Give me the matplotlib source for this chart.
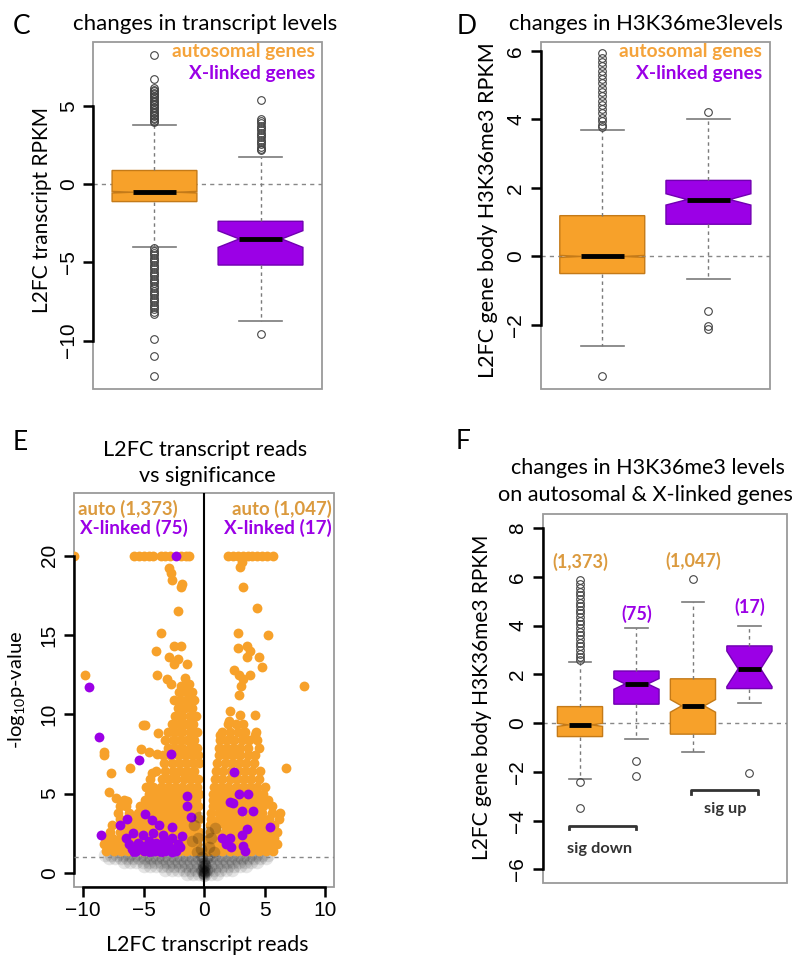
import matplotlib
matplotlib.use("Agg")
import matplotlib.pyplot as plt
from matplotlib.patches import Rectangle

plt.rcParams['font.family'] = ['Lato', 'DejaVu Sans']
plt.rcParams['mathtext.fontset'] = 'custom'
plt.rcParams['mathtext.rm'] = 'Lato'

W, H = 801, 973
ORANGE = '#F7A12A'
ORANGE_EDGE = '#C47A18'
PURPLE = '#9B00E6'
PURPLE_EDGE = '#7000B0'
ORANGE_TXT = '#F5A33A'
ORANGE_TXT2 = '#DB9A3E'
TICKFONT = ['Liberation Sans', 'DejaVu Sans']

# ---------------- panel C: transcript levels ----------------
c_med = [-0.51, -3.50]
c_q1 = [-1.11, -5.17]
c_q3 = [0.88, -2.37]
c_lo = [-4.04, -8.74]
c_hi = [3.81, 1.73]
c_cilo = [-0.56, -4.04]
c_cihi = [-0.46, -2.97]
c_fliers = [
    [8.30, 6.73, 6.18, 6.05, 5.95, 5.85, 5.75, 5.65, 5.55, 5.45, 5.35, 5.25, 5.15,
     5.05, 4.95, 4.85, 4.75, 4.65, 4.55, 4.45, 4.35, 4.25, 4.15, 4.05, 3.95,
     -4.10, -4.25, -4.40, -4.55, -4.70, -4.85, -5.00, -5.15, -5.30, -5.45, -5.60,
     -5.75, -5.90, -6.05, -6.20, -6.35, -6.50, -6.65, -6.80, -6.95, -7.10, -7.25,
     -7.40, -7.55, -7.70, -7.85, -8.00, -8.15, -8.30, -9.93, -11.0, -12.3],
    [5.41, 4.19, 4.05, 3.90, 3.75, 3.60, 3.45, 3.30, 3.15, 3.00, 2.85, 2.70,
     2.55, 2.40, 2.28, 2.16, -9.55],
]

# ---------------- panel D: H3K36me3 levels ----------------
d_med = [0.00, 1.66]
d_q1 = [-0.50, 0.94]
d_q3 = [1.19, 2.22]
d_lo = [-2.61, -0.66]
d_hi = [3.69, 4.00]
d_cilo = [-0.03, 1.50]
d_cihi = [0.03, 1.83]
d_fliers = [
    [5.93, 5.80, 5.68, 5.55, 5.42, 5.30, 5.18, 5.05, 4.92, 4.80, 4.68, 4.55, 4.42,
     4.30, 4.18, 4.05, 3.95, 3.85, 3.77, -3.48],
    [4.23, -1.60, -2.03, -2.12],
]

# ---------------- panel F: sig down / sig up ----------------
f_med = [-0.07, 1.61, 0.71, 2.23]
f_q1 = [-0.55, 0.78, -0.45, 1.42]
f_q3 = [0.68, 2.14, 1.82, 3.17]
f_lo = [-2.30, -0.66, -1.19, 0.82]
f_hi = [2.50, 3.89, 4.99, 4.00]
f_cilo = [-0.13, 1.39, 0.45, 1.50]
f_cihi = [-0.01, 1.83, 0.97, 2.96]
f_fliers = [
    [5.87, 5.70, 5.55, 5.40, 5.25, 5.10, 4.95, 4.80, 4.65, 4.50, 4.35, 4.20, 4.05,
     3.90, 3.75, 3.60, 3.45, 3.30, 3.15, 3.00, 2.85, 2.70, 2.58, -2.43, -3.48],
    [-1.57, -2.16],
    [5.90],
    [-2.05],
]
f_counts = ['(1,373)', '(75)', '(1,047)', '(17)']
f_count_y = [6.62, 4.50, 6.66, 4.78]

# ---------------- panel E: volcano ----------------
# dense autosomal rows (y, x values)
auto_rows = [
    (1.4, [-8.1, -7.5, -6.9, -6.3, -5.7, -5.1, -4.5, -3.9, -3.3, -2.7, -2.1, -1.5, -0.9, -0.4,
           0.3, 0.9, 1.5, 2.1, 2.7, 3.3, 3.9, 4.5, 5.1, 5.7]),
    (1.8, [-8.3, -7.8, -7.2, -6.6, -6.0, -5.4, -4.8, -4.2, -3.6, -3.0, -2.4, -1.8, -1.2, -0.6,
           0.2, 0.6, 1.2, 1.8, 2.4, 3.0, 3.6, 4.2, 4.8, 5.4, 6.0]),
    (2.2, [-8.2, -7.6, -7.0, -6.4, -5.8, -5.2, -4.6, -4.0, -3.4, -2.8, -2.2, -1.6, -1.0, -0.5,
           0.4, 1.0, 1.6, 2.2, 2.8, 3.4, 4.0, 4.6, 5.2, 5.8]),
    (2.6, [-7.8, -7.0, -6.3, -5.7, -5.1, -4.5, -3.9, -3.3, -2.7, -2.1, -1.5, -0.9, -0.4,
           0.5, 1.1, 1.7, 2.3, 2.9, 3.5, 4.1, 4.7, 5.3, 6.0]),
    (3.0, [-7.6, -6.8, -6.1, -5.5, -4.9, -4.3, -3.7, -3.1, -2.5, -1.9, -1.3, -0.7,
           0.5, 1.1, 1.7, 2.3, 2.9, 3.5, 4.1, 4.7, 5.3, 5.8]),
    (3.4, [-7.0, -6.4, -5.8, -5.2, -4.6, -4.0, -3.4, -2.8, -2.2, -1.6, -1.0, -0.4,
           0.6, 1.2, 1.8, 2.4, 3.0, 3.6, 4.2, 4.8, 5.4, 6.2]),
    (3.8, [-7.1, -6.2, -5.5, -4.9, -4.3, -3.7, -3.1, -2.5, -1.9, -1.3, -0.7,
           0.6, 1.2, 1.8, 2.4, 3.0, 3.6, 4.2, 4.8, 5.6, 6.3]),
    (4.2, [-6.5, -5.3, -4.7, -4.1, -3.5, -2.9, -2.3, -1.7, -1.1, -0.5,
           0.7, 1.3, 1.9, 2.5, 3.1, 3.7, 4.3, 4.9, 5.6]),
    (4.6, [-6.6, -4.9, -4.3, -3.7, -3.1, -2.5, -1.9, -1.3, -0.7,
           0.7, 1.3, 1.9, 2.5, 3.1, 3.7, 4.3, 4.9, 5.3]),
    (5.0, [-4.6, -4.0, -3.4, -2.8, -2.2, -1.6, -1.0, -0.4,
           0.7, 1.3, 1.9, 2.5, 3.1, 3.7, 4.3, 4.9]),
    (5.4, [-4.8, -4.2, -3.6, -3.0, -2.4, -1.8, -1.2, -0.6,
           0.8, 1.4, 2.0, 2.6, 3.2, 3.8, 4.4, 5.0]),
    (5.9, [-4.5, -3.5, -2.9, -2.3, -1.7, -1.1, -0.5,
           0.9, 1.5, 2.1, 2.7, 3.3, 3.9, 4.5]),
    (6.4, [-4.0, -3.2, -2.6, -2.0, -1.4, -0.8, 1.0, 1.6, 2.2, 2.8, 3.4, 4.0, 4.6]),
    (6.9, [-3.3, -2.7, -2.1, -1.5, -0.9, -0.4, 1.1, 1.7, 2.3, 2.9, 3.5, 4.1]),
    (7.4, [-3.4, -2.8, -2.2, -1.6, -1.0, -0.5, 1.2, 1.8, 2.4, 3.0, 3.6, 4.2]),
    (7.9, [-3.0, -2.4, -1.8, -1.2, -0.6, 1.2, 1.8, 2.4, 3.0, 3.6, 4.5]),
    (8.4, [-3.2, -2.6, -2.0, -1.4, -0.8, 1.3, 1.9, 2.5, 3.1, 3.7, 4.4]),
    (8.9, [-3.0, -2.4, -1.8, -1.2, -0.6, 1.5, 2.1, 2.8, 3.4, 4.3]),
    (9.4, [-2.7, -2.1, -1.5, -0.9, 2.0, 2.6, 3.2]),
    (9.9, [-2.4, -1.8, -1.2, -0.7]),
    (10.4, [-2.2, -1.6, -1.0]),
    (10.9, [-2.5, -1.9, -1.3, -0.8]),
    (11.4, [-2.1, -1.5, -1.0]),
    (20.0, [-10.8, -5.8, -5.4, -5.0, -4.6, -4.2, -3.6, -3.2, -2.8, -1.9, -1.5, -1.25,
            2.0, 2.4, 2.8, 3.2, 3.6, 4.0, 4.4, 4.8, 5.2, 5.7]),
]
auto_x = [-2.90, -2.78, -2.65, -1.93, -1.80, -2.15, -3.53, -3.97, -2.48, -1.88, -2.90, -2.15,
          -1.43, -2.48, -3.92, -3.09, -2.78, -1.60, -1.93, -1.24, -9.85, -4.90, -5.10, -3.86,
          -8.30, -8.28, -5.24, -4.55, -3.90, -6.13, -7.73, -4.30, -7.87, -7.30, -6.40, -7.00,
          2.05, 2.98, 4.22, 2.15, 2.92, 3.06, 3.20, 2.87, 3.80, 2.43, 4.77, 3.53, 4.50, 2.79,
          3.53, 3.80, 2.79, 5.30, 4.41, 3.25, 2.98, 3.10, 8.30, 6.79, 1.32, 4.22]
auto_y = [19.2, 18.9, 18.5, 18.0, 18.2, 16.5, 15.1, 14.0, 14.3, 14.3, 13.6, 13.5,
          13.2, 13.2, 12.5, 12.2, 11.9, 12.3, 11.8, 11.9, 12.5, 9.3, 9.3, 8.8,
          7.6, 7.4, 7.8, 7.6, 7.5, 6.6, 6.3, 6.3, 5.1, 4.7, 4.5, 4.2,
          9.6, 9.95, 9.95, 10.2, 11.2, 11.8, 12.2, 12.5, 12.5, 12.8, 13.0, 13.6, 13.6, 14.2,
          14.3, 14.0, 15.1, 15.0, 16.7, 18.05, 19.3, 19.6, 11.8, 6.6, 8.7, 8.7]

xlink_x = [-2.30, -9.52, -8.69, -5.35, -2.76, -1.43, -1.43, -1.05, -4.90, -6.40, -7.00, -4.28,
           -3.72, -2.62, -8.50, -5.85, -5.10, -4.20, -6.48, -1.80, -3.40,
           -6.0, -5.6, -5.3, -5.0, -4.7, -4.4, -4.1, -3.8, -3.5, -3.2, -2.9, -2.6, -2.3, -2.0,
           -5.8, -5.4, -4.9, -4.5, -3.9, -3.6, -3.1, -2.7, -2.2,
           -3.3, -2.7, -4.6, -5.5, -6.2, -4.0, -3.0,
           2.43, 2.92, 3.60, 2.10, 2.37, 3.12, 4.08, 5.46, 3.53, 3.12, 1.47, 2.15, 1.80, 2.20,
           3.25, 3.42]
xlink_y = [20.0, 11.7, 8.54, 7.1, 7.5, 4.85, 4.2, 3.5, 3.7, 3.4, 3.0, 3.3,
           3.0, 2.9, 2.38, 2.5, 2.4, 2.5, 2.2, 2.3, 2.4,
           1.5, 1.4, 1.6, 1.4, 1.5, 1.7, 1.4, 1.5, 1.8, 1.4, 1.6, 1.5, 1.4, 1.6,
           1.3, 1.8, 1.7, 1.3, 1.8, 1.3, 1.9, 1.3, 1.8,
           2.0, 2.2, 2.0, 1.9, 1.8, 1.9, 1.9,
           6.37, 4.97, 4.97, 4.48, 4.4, 3.9, 3.9, 2.86, 2.75, 2.4, 2.17, 2.2, 1.8, 1.65,
           1.7, 1.35]

# non-significant genes (grey cloud)
ns_rows = [
    (1.15, [-8.2, -7.7, -7.2, -6.7, -6.2, -5.7, -5.2, -4.7, -4.2, -3.7, -3.2, -2.7, -2.2,
            -1.7, -1.2, -0.7, -0.2, 0.3, 0.8, 1.3, 1.8, 2.3, 2.8, 3.3, 3.8, 4.3, 4.8, 5.3]),
    (0.9, [-7.9, -7.4, -6.9, -6.4, -5.9, -5.4, -4.9, -4.4, -3.9, -3.4, -2.9, -2.4, -1.9,
           -1.4, -0.9, -0.4, 0.1, 0.6, 1.1, 1.6, 2.1, 2.6, 3.1, 3.6, 4.1, 4.6, 5.1]),
    (0.65, [-6.6, -6.1, -5.6, -5.1, -4.6, -4.1, -3.6, -3.1, -2.6, -2.1, -1.6, -1.1, -0.6,
            -0.1, 0.4, 0.9, 1.4, 1.9, 2.4, 2.9, 3.4, 3.9, 4.4]),
    (0.4, [-5.0, -4.5, -4.0, -3.5, -3.0, -2.5, -2.0, -1.5, -1.0, -0.5, 0.0, 0.5, 1.0, 1.5,
           2.0, 2.5, 3.0, 3.5]),
    (0.15, [-3.2, -2.7, -2.2, -1.7, -1.2, -0.7, -0.2, 0.3, 0.8, 1.3, 1.8, 2.3]),
    (-0.1, [-1.4, -0.9, -0.4, 0.1, 0.6, 1.1]),
]
ns_x = [0.0, 0.0, 0.0, -0.2, 0.2, 0.0, -0.1, 0.1, -0.3, -0.5, -0.8, -0.4, 0.4, 0.6, 0.9,
        0.3, -1.0, -0.6, 0.8, -0.2, 0.2, 0.0, -0.1, 0.1]
ns_y = [-0.1, 0.1, 0.3, 0.2, 0.15, 0.6, 0.0, 0.05, 1.5, 2.2, 3.0, 3.5, 1.6, 2.2, 2.8,
        2.6, 2.0, 1.3, 1.3, 1.0, 0.9, -0.2, 0.4, 0.5]


def px(x, y):
    return x / W, 1 - y / H


def ftext(x, y, s, **kw):
    kw.setdefault('va', 'center')
    kw.setdefault('ha', 'center')
    fig.text(*px(x, y), s, **kw)


def r_frame(ax, ybounds, xbounds=None):
    for s in ax.spines.values():
        s.set_visible(False)
    ax.add_patch(Rectangle((0, 0), 1, 1, transform=ax.transAxes, fill=False,
                           ec='#9a9a9a', lw=1.3, zorder=0.5, clip_on=False))
    ax.spines['left'].set_visible(True)
    ax.spines['left'].set_bounds(*ybounds)
    ax.spines['left'].set_linewidth(1.8)
    ax.tick_params(axis='y', length=7, width=1.8, labelsize=15, labelrotation=90, pad=4)
    if xbounds is None:
        ax.set_xticks([])
    else:
        ax.spines['bottom'].set_visible(True)
        ax.spines['bottom'].set_bounds(*xbounds)
        ax.spines['bottom'].set_linewidth(1.8)
        ax.tick_params(axis='x', length=7, width=1.8, labelsize=15, pad=3)
    for lab in ax.get_yticklabels() + ax.get_xticklabels():
        lab.set_family(TICKFONT)
    for lab in ax.get_yticklabels():
        lab.set_va('center')


def boxes(ax, med, q1, q3, lo, hi, cilo, cihi, fliers, colors, edges):
    stats = []
    for i in range(len(med)):
        stats.append(dict(med=med[i], q1=q1[i], q3=q3[i], whislo=lo[i], whishi=hi[i],
                          cilo=cilo[i], cihi=cihi[i], fliers=fliers[i]))
    bp = ax.bxp(stats, positions=range(1, len(med) + 1), widths=0.8, capwidths=0.4,
                shownotches=True, patch_artist=True,
                whiskerprops=dict(color='#7a7a7a', lw=1.0, linestyle=(0, (2.5, 2.5))),
                capprops=dict(color='#7a7a7a', lw=1.2),
                medianprops=dict(color='black', lw=3.5, solid_capstyle='butt'),
                flierprops=dict(marker='o', mfc='none', mec='#444444', ms=5.5, mew=0.8))
    for patch, fc, ec in zip(bp['boxes'], colors, edges):
        patch.set_facecolor(fc)
        patch.set_edgecolor(ec)
        patch.set_linewidth(1.0)
    return bp


fig = plt.figure(figsize=(W / 100, H / 100), dpi=100)

# ---- C ----
axC = fig.add_axes([93 / W, 1 - 389 / H, 229 / W, 347 / H])
axC.axhline(0, color='#888888', lw=1, ls=(0, (3, 3)), zorder=0.6)
boxes(axC, c_med, c_q1, c_q3, c_lo, c_hi, c_cilo, c_cihi, c_fliers,
      [ORANGE, PURPLE], [ORANGE_EDGE, PURPLE_EDGE])
axC.set_xlim(0.42, 2.58)
axC.set_ylim(-13.1, 9.1)
axC.set_yticks([-10, -5, 0, 5])
r_frame(axC, (-10, 5))
ftext(22, 26, 'C', fontsize=19)
ftext(205, 24, 'changes in transcript levels', fontsize=16)
ftext(42, 210, 'L2FC transcript RPKM', fontsize=15, rotation=90)
ftext(315, 52, 'autosomal genes', ha='right', color=ORANGE_TXT, fontsize=13.8, fontweight='bold')
ftext(315, 74, 'X-linked genes', ha='right', color=PURPLE, fontsize=13.8, fontweight='bold')

# ---- D ----
axD = fig.add_axes([540.7 / W, 1 - 389 / H, 229.3 / W, 347 / H])
axD.axhline(0, color='#888888', lw=1, ls=(0, (3, 3)), zorder=0.6)
boxes(axD, d_med, d_q1, d_q3, d_lo, d_hi, d_cilo, d_cihi, d_fliers,
      [ORANGE, PURPLE], [ORANGE_EDGE, PURPLE_EDGE])
axD.set_xlim(0.42, 2.58)
axD.set_ylim(-3.87, 6.26)
axD.set_yticks([-2, 0, 2, 4, 6])
r_frame(axD, (-2, 6))
ftext(467, 26, 'D', fontsize=19)
ftext(646, 24, 'changes in H3K36me3levels', fontsize=15.8)
ftext(488, 210, 'L2FC gene body H3K36me3 RPKM', fontsize=15.5, rotation=90)
ftext(762, 52, 'autosomal genes', ha='right', color=ORANGE_TXT, fontsize=13.8, fontweight='bold')
ftext(762, 74, 'X-linked genes', ha='right', color=PURPLE, fontsize=13.8, fontweight='bold')

# ---- E ----
axE = fig.add_axes([74 / W, 1 - 886.7 / H, 260.3 / W, 393.4 / H])
for y, xs in ns_rows:
    axE.scatter(xs, [y] * len(xs), s=95, color='black', alpha=0.1, lw=0, zorder=1)
for y, xs in auto_rows:
    axE.scatter(xs, [y] * len(xs), s=50, color=ORANGE, lw=0, zorder=2)
axE.scatter(auto_x, auto_y, s=50, color=ORANGE, lw=0, zorder=2)
axE.scatter(xlink_x, xlink_y, s=50, color=PURPLE, lw=0, zorder=3)
axE.scatter(ns_x, ns_y, s=70, color='black', alpha=0.18, lw=0, zorder=4)
axE.axhline(1.0, color='#888888', lw=1, ls=(0, (3, 3)), zorder=5)
axE.axvline(0, color='black', lw=1.5, zorder=5)
axE.set_xlim(-10.77, 10.77)
axE.set_ylim(-0.88, 23.94)
axE.set_yticks([0, 5, 10, 15, 20])
axE.set_xticks([-10, -5, 0, 5, 10])
r_frame(axE, (0, 20), (-10, 10))
ftext(20, 443, 'E', fontsize=19)
ftext(205, 450, 'L2FC transcript reads', fontsize=15.6)
ftext(207, 476, 'vs significance', fontsize=15.6)
ftext(207, 945, 'L2FC transcript reads', fontsize=15.4)
ftext(17, 690, '-log$_{\\mathregular{10}}$p-value', fontsize=14.5, rotation=90)
ftext(78, 509, 'auto (1,373)', ha='left', color=ORANGE_TXT2, fontsize=13.4, fontweight='bold')
ftext(80, 528, 'X-linked (75)', ha='left', color=PURPLE, fontsize=13.6, fontweight='bold')
ftext(332, 509, 'auto (1,047)', ha='right', color=ORANGE_TXT2, fontsize=13.4, fontweight='bold')
ftext(332, 528, 'X-linked (17)', ha='right', color=PURPLE, fontsize=13.6, fontweight='bold')

# ---- F ----
axF = fig.add_axes([542.7 / W, 1 - 883.3 / H, 244 / W, 369 / H])
axF.axhline(0, color='#888888', lw=1, ls=(0, (3, 3)), zorder=0.6)
boxes(axF, f_med, f_q1, f_q3, f_lo, f_hi, f_cilo, f_cihi, f_fliers,
      [ORANGE, PURPLE, ORANGE, PURPLE],
      [ORANGE_EDGE, PURPLE_EDGE, ORANGE_EDGE, PURPLE_EDGE])
axF.set_xlim(0.34, 4.66)
axF.set_ylim(-6.57, 8.57)
axF.set_yticks([-6, -4, -2, 0, 2, 4, 6, 8])
r_frame(axF, (-6, 8))
for i, (lab, yy) in enumerate(zip(f_counts, f_count_y)):
    col = ORANGE_TXT2 if i % 2 == 0 else PURPLE
    axF.text(i + 1, yy, lab, ha='center', va='center', color=col, fontsize=13, fontweight='bold')
axF.plot([0.8, 0.8, 2.0, 2.0], [-4.35, -4.2, -4.2, -4.35], color='#333333', lw=2)
axF.text(1.35, -5.16, 'sig down', ha='center', va='center', fontsize=11.8, fontweight='bold', color='#333333')
axF.plot([2.96, 2.96, 4.16, 4.16], [-2.89, -2.74, -2.74, -2.89], color='#333333', lw=2)
axF.text(3.58, -3.52, 'sig up', ha='center', va='center', fontsize=11.8, fontweight='bold', color='#333333')
ftext(463, 441, 'F', fontsize=19)
ftext(648, 468, 'changes in H3K36me3 levels', fontsize=15.5)
ftext(645, 495, 'on autosomal & X-linked genes', fontsize=15.6)
ftext(482, 697, 'L2FC gene body H3K36me3 RPKM', fontsize=15, rotation=90)

fig.savefig('out.png', dpi=100)
